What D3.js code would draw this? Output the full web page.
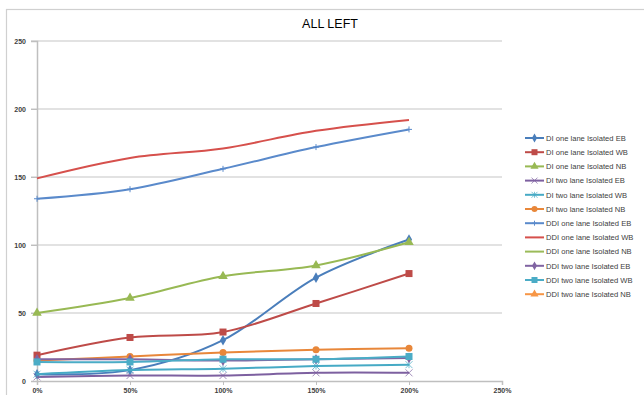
<!DOCTYPE html>
<html>
<head>
<meta charset="utf-8">
<script src="https://cdn.jsdelivr.net/npm/d3@7/dist/d3.min.js"></script>
<style>
body { margin: 0; background: #fff; }
svg { display: block; font-family: "Liberation Sans", Arial, sans-serif; }
.tick-lbl { font-size: 7px; fill: #404040; font-weight: bold; }
.legend text { font-size: 7.6px; fill: #404040; }
</style>
</head>
<body>
<div id="chart"></div>
<script>
// x categories (load level) and tick labels
var levels = [0, 0.5, 1, 1.5, 2];
var xTicks = [0, 0.5, 1, 1.5, 2, 2.5];
var yTicks = [0, 50, 100, 150, 200, 250];

var seriesNames = [
  "DI one lane Isolated EB", "DI one lane Isolated WB", "DI one lane Isolated NB",
  "DI two lane Isolated EB", "DI two lane Isolated WB", "DI two lane Isolated NB",
  "DDI one lane Isolated EB", "DDI one lane Isolated WB", "DDI one lane Isolated NB",
  "DDI two lane Isolated EB", "DDI two lane Isolated WB", "DDI two lane Isolated NB"
];

// values (null = nothing visible)
var diOneEB  = [5, 8, 30, 76, 104];
var diOneWB  = [19, 32, 36, 57, 79];
var diOneNB  = [50, 61, 77, 85, 102];
var diTwoEB  = [3, 4, 4, 6, 6];
var diTwoWB  = [5, 8, 9, 11, 12];
var diTwoNB  = [15, 18, 21, 23, 24];
var ddiOneEB = [134, 141, 156, 172, 185];
var ddiOneWB = [149, 164, 171, 184, 192];
var ddiOneNB = [null, null, null, null, null];
var ddiTwoEB = [16, 16, 15, 16, 17];
var ddiTwoWB = [14, 14, 16, 16, 18];
var ddiTwoNB = [null, null, null, null, null];

var allValues = [diOneEB, diOneWB, diOneNB, diTwoEB, diTwoWB, diTwoNB,
  ddiOneEB, ddiOneWB, ddiOneNB, ddiTwoEB, ddiTwoWB, ddiTwoNB];

var colors = ["#4A7EBB", "#BE4B48", "#98B954", "#7D60A0", "#46AAC5", "#E8873A",
  "#5A8ACB", "#D6504C", "#9BBB59", "#8064A2", "#4BACC6", "#F79646"];
var markers = ["diamond", "square", "triangle", "x", "star", "circle",
  "plus", "none", "none", "diamond", "square", "triangle"];

var W = 644, H = 395;
var svg = d3.select("#chart").append("svg").attr("width", W).attr("height", H);

// outer chart frame
svg.append("rect").attr("x", 6.5).attr("y", 9.5).attr("width", 700).attr("height", 400)
  .attr("fill", "none").attr("stroke", "#d0d0d0").attr("stroke-width", 1.2);

svg.append("text").attr("x", 330).attr("y", 28).attr("text-anchor", "middle")
  .style("font-size", "12.5px").style("fill", "#000").text("ALL LEFT");

var x = d3.scaleLinear().domain([0, 2.5]).range([37, 502]);
var y = d3.scaleLinear().domain([0, 250]).range([381, 41]);

// gridlines
svg.append("g").selectAll("line").data(yTicks.slice(1)).enter().append("line")
  .attr("x1", 31).attr("x2", x(2.5)).attr("y1", function(d){return y(d);}).attr("y2", function(d){return y(d);})
  .attr("stroke", "#d9d9d9").attr("stroke-width", 1.5);

// axes
var yAxis = d3.axisLeft(y).tickValues(yTicks).tickSize(6).tickFormat(d3.format("d"));
var gy = svg.append("g").attr("transform", "translate(" + x(0) + ",0)").call(yAxis);
gy.select(".domain").attr("stroke", "#bfbfbf").attr("stroke-width", 1.5);
gy.selectAll(".tick line").attr("stroke", "#bfbfbf");
gy.selectAll(".tick text").attr("class", "tick-lbl").attr("x", -11);

var xAxis = d3.axisBottom(x).tickValues(xTicks).tickSize(4).tickFormat(d3.format(".0%"));
var gx = svg.append("g").attr("transform", "translate(0," + y(0) + ")").call(xAxis);
gx.select(".domain").attr("stroke", "#bfbfbf").attr("stroke-width", 1.5);
gx.selectAll(".tick line").attr("stroke", "#bfbfbf");
gx.selectAll(".tick text").attr("class", "tick-lbl").attr("y", 7);

function drawMarker(g, type, color, cx, cy, s) {
  if (type == "none") return;
  if (type == "diamond") {
    g.append("path").attr("d", d3.symbol(d3.symbolDiamond, s * s * 0.9)()).attr("transform", "translate(" + cx + "," + cy + ")").attr("fill", color);
  } else if (type == "square") {
    g.append("rect").attr("x", cx - s/2).attr("y", cy - s/2).attr("width", s).attr("height", s).attr("fill", color);
  } else if (type == "triangle") {
    g.append("path").attr("d", d3.symbol(d3.symbolTriangle, s * s * 0.8)()).attr("transform", "translate(" + cx + "," + cy + ")").attr("fill", color);
  } else if (type == "circle") {
    g.append("circle").attr("cx", cx).attr("cy", cy).attr("r", s/2).attr("fill", color);
  } else if (type == "x") {
    var h = s/2;
    g.append("path").attr("d", "M" + (cx-h) + "," + (cy-h) + "L" + (cx+h) + "," + (cy+h) + "M" + (cx-h) + "," + (cy+h) + "L" + (cx+h) + "," + (cy-h))
      .attr("stroke", color).attr("stroke-width", 1).attr("fill", "none").attr("opacity", 0.7);
  } else if (type == "star") {
    var h2 = s/2;
    g.append("path").attr("d", "M" + (cx-h2) + "," + (cy-h2) + "L" + (cx+h2) + "," + (cy+h2) + "M" + (cx-h2) + "," + (cy+h2) + "L" + (cx+h2) + "," + (cy-h2) + "M" + cx + "," + (cy-h2) + "L" + cx + "," + (cy+h2))
      .attr("stroke", color).attr("stroke-width", 1).attr("fill", "none").attr("opacity", 0.7);
  } else if (type == "plus") {
    var h3 = s/2;
    g.append("path").attr("d", "M" + (cx-h3) + "," + cy + "L" + (cx+h3) + "," + cy + "M" + cx + "," + (cy-h3) + "L" + cx + "," + (cy+h3))
      .attr("stroke", color).attr("stroke-width", 1).attr("fill", "none");
  }
}

var line = d3.line()
  .defined(function(d){ return d[1] != null; })
  .x(function(d){ return x(d[0]); })
  .y(function(d){ return y(d[1]); })
  .curve(d3.curveCatmullRom.alpha(0));

var plot = svg.append("g");
for (var i = 0; i < allValues.length; i++) {
  var pts = levels.map(function(l, j){ return [l, allValues[i][j]]; });
  var g = plot.append("g");
  g.append("path").attr("d", line(pts)).attr("fill", "none")
    .attr("stroke", colors[i]).attr("stroke-width", 2);
  pts.forEach(function(p){
    if (p[1] == null) return;
    var sz = markers[i] == "diamond" ? 6 : markers[i] == "plus" ? 6 : 7;
    drawMarker(g, markers[i], colors[i], x(p[0]), y(p[1]), sz);
  });
}

// legend
var leg = svg.append("g").attr("class", "legend");
seriesNames.forEach(function(name, i){
  var ly = 138 + i * 14.2;
  var lg = leg.append("g");
  lg.append("line").attr("x1", 525).attr("x2", 544).attr("y1", ly).attr("y2", ly)
    .attr("stroke", colors[i]).attr("stroke-width", 2);
  drawMarker(lg, markers[i], colors[i], 534.5, ly, markers[i] == "diamond" || markers[i] == "plus" ? 5 : 6);
  lg.append("text").attr("x", 546).attr("y", ly + 2.7).text(name);
});
</script>
</body>
</html>
